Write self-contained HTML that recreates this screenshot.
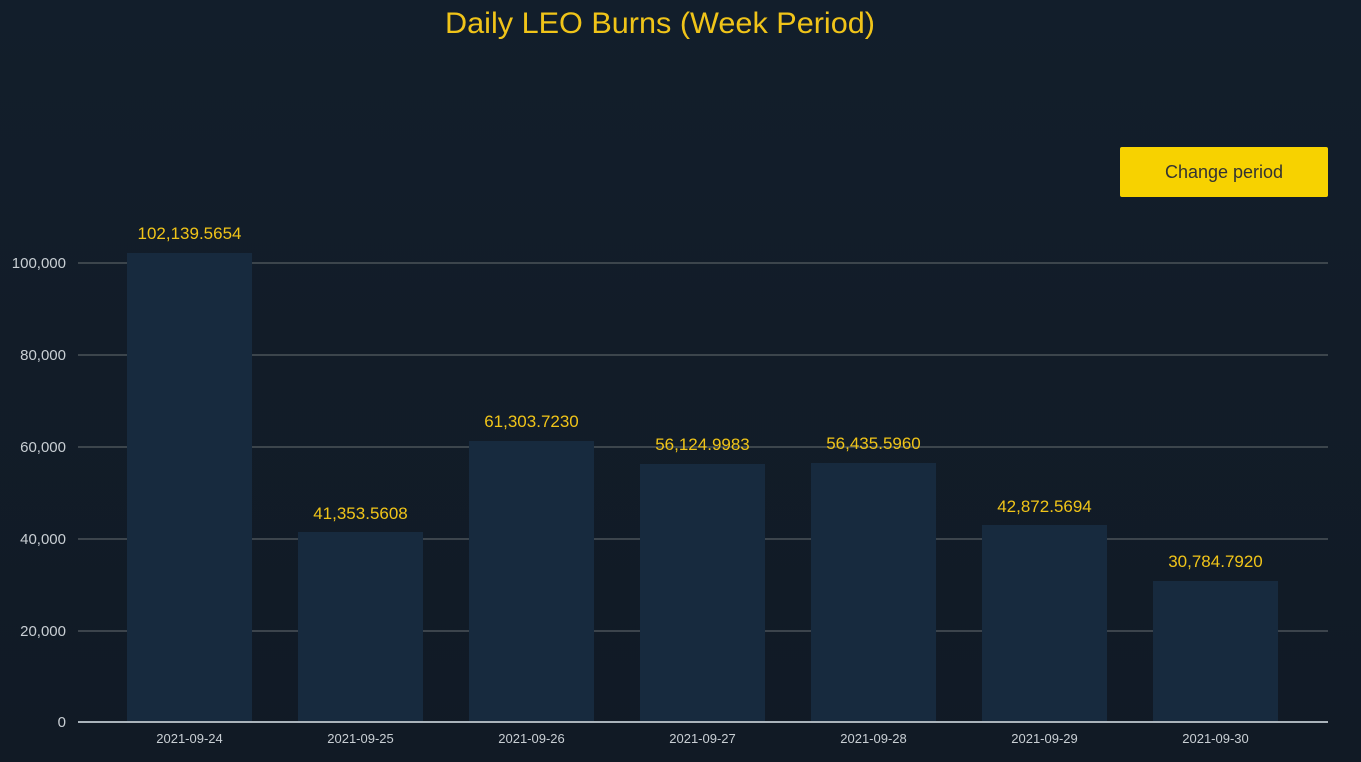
<!DOCTYPE html>
<html><head><meta charset="utf-8"><style>
html,body{margin:0;padding:0;background:#121f2c;}
svg{display:block;font-family:"Liberation Sans",sans-serif;}
</style></head><body>
<svg width="1361" height="762" viewBox="0 0 1361 762">
<defs><linearGradient id="bg" x1="0" y1="0" x2="0" y2="1"><stop offset="0" stop-color="#121e2b"/><stop offset="1" stop-color="#111a25"/></linearGradient></defs>
<rect width="1361" height="762" fill="url(#bg)"/>
<text x="660" y="33" text-anchor="middle" fill="#f0c419" font-size="30" textLength="430" lengthAdjust="spacingAndGlyphs">Daily LEO Burns (Week Period)</text>
<rect x="1120" y="147" width="208" height="50" rx="2" fill="#f7d200"/>
<text x="1224" y="178" text-anchor="middle" fill="#333" font-size="18">Change period</text>
<g stroke="#4a5358" stroke-width="1.5">
<line x1="78" x2="1328" y1="263" y2="263"/>
<line x1="78" x2="1328" y1="355" y2="355"/>
<line x1="78" x2="1328" y1="447" y2="447"/>
<line x1="78" x2="1328" y1="539" y2="539"/>
<line x1="78" x2="1328" y1="631" y2="631"/>
</g>
<g fill="#172a3e">
<rect x="127" y="253" width="125" height="469"/>
<rect x="298" y="532" width="125" height="190"/>
<rect x="469" y="441" width="125" height="281"/>
<rect x="640" y="464" width="125" height="258"/>
<rect x="811" y="463" width="125" height="259"/>
<rect x="982" y="525" width="125" height="197"/>
<rect x="1153" y="581" width="125" height="141"/>
</g>
<line x1="78" x2="1328" y1="722" y2="722" stroke="#aab3bb" stroke-width="2"/>
<g fill="#c9cfd4" font-size="15" text-anchor="end">
<text x="66" y="268">100,000</text>
<text x="66" y="360">80,000</text>
<text x="66" y="452">60,000</text>
<text x="66" y="544">40,000</text>
<text x="66" y="636">20,000</text>
<text x="66" y="727">0</text>
</g>
<g fill="#c9cfd4" font-size="13" text-anchor="middle">
<text x="189.5" y="743">2021-09-24</text>
<text x="360.5" y="743">2021-09-25</text>
<text x="531.5" y="743">2021-09-26</text>
<text x="702.5" y="743">2021-09-27</text>
<text x="873.5" y="743">2021-09-28</text>
<text x="1044.5" y="743">2021-09-29</text>
<text x="1215.5" y="743">2021-09-30</text>
</g>
<g fill="#f0c419" font-size="17" text-anchor="middle">
<text x="189.5" y="239">102,139.5654</text>
<text x="360.5" y="519">41,353.5608</text>
<text x="531.5" y="427">61,303.7230</text>
<text x="702.5" y="450">56,124.9983</text>
<text x="873.5" y="449">56,435.5960</text>
<text x="1044.5" y="512">42,872.5694</text>
<text x="1215.5" y="567">30,784.7920</text>
</g>
</svg>
</body></html>
